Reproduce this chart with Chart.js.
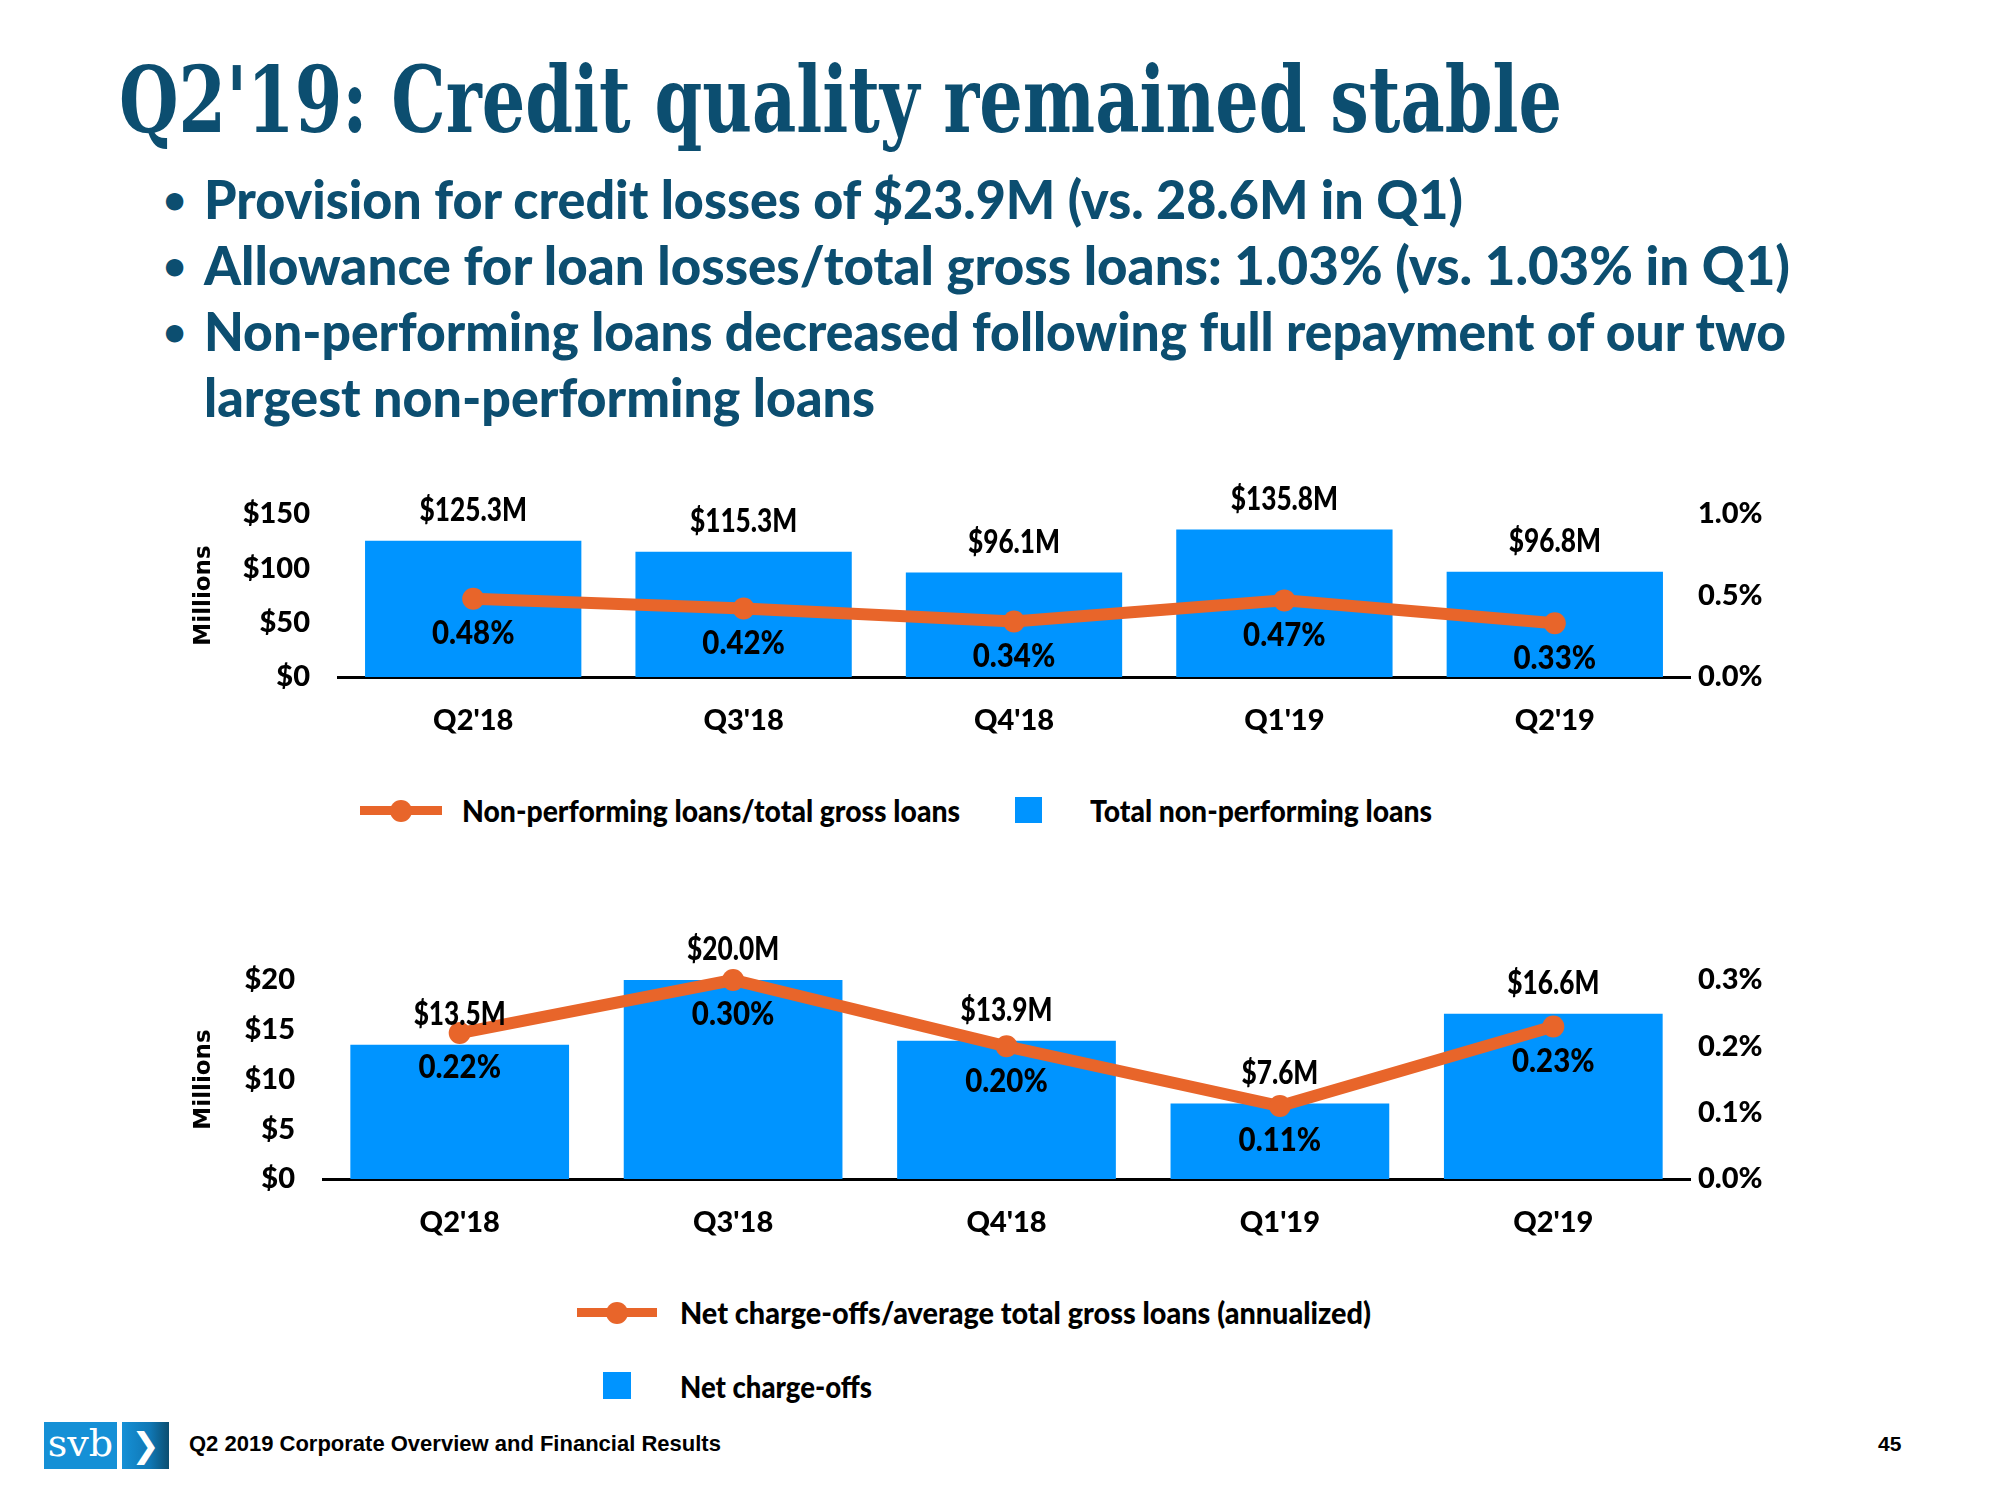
<!DOCTYPE html>
<html>
<head>
<meta charset="utf-8">
<script src="https://cdn.jsdelivr.net/npm/chart.js@4.4.1/dist/chart.umd.min.js"></script>
<style>
  html, body { margin: 0; padding: 0; background: #fff; }
  body { width: 2000px; height: 1500px; position: relative; overflow: hidden; font-family: Lato, sans-serif; }
  .abs { position: absolute; white-space: nowrap; transform-origin: 0 50%; }
  #title { left: 119px; top: 50px; font-family: 'DejaVu Serif', serif;
           font-weight: bold; font-size: 92px; line-height: 100px; color: #0c4e70; }
  .bullet { left: 204px; font-weight: 900; font-size: 54px; line-height: 66px; color: #0c4e70; }
  .dot { left: 163px; font-weight: bold; font-size: 40px; line-height: 66px; color: #0c4e70; }
  .leg { font-weight: 900; font-size: 31px; line-height: 40px; color: #000; }
  .legline { position: absolute; height: 9px; background: #e8652a; }
  .legline::after { content: ''; position: absolute; left: 50%; top: 50%; width: 22px; height: 22px;
                    margin: -11px 0 0 -11px; border-radius: 50%; background: #e8652a; }
  .legbox { position: absolute; background: #0094ff; }
  .chartbox { position: absolute; }
  #footer { left: 189px; top: 1430px; font-family: 'Liberation Sans', Arial, sans-serif; font-weight: bold;
            font-size: 22px; line-height: 28px; color: #000; }
  #page { left: 1878px; top: 1430px; font-family: 'Liberation Sans', Arial, sans-serif; font-weight: bold;
          font-size: 21px; line-height: 28px; color: #000; }
  #logoL { left: 44px; top: 1422px; width: 73px; height: 47px; background: #1590d6; color: #fff;
           font-family: 'DejaVu Serif', serif; font-size: 38px; line-height: 42px; text-align: center; }
  #logoR { left: 122px; top: 1422px; width: 47px; height: 47px;
           background: linear-gradient(90deg, #1590d6 0%, #1077b4 60%, #0c4e70 100%); color: #fff;
           font-family: 'DejaVu Sans', sans-serif; font-weight: bold; font-size: 34px; line-height: 46px; text-align: center; }
</style>
</head>
<body>
<div id="title" class="abs fit" data-w="1443">Q2'19: Credit quality remained stable</div>
<div class="abs dot" style="top:166px">•</div>
<div class="abs dot" style="top:232px">•</div>
<div class="abs dot" style="top:298px">•</div>
<div class="abs bullet fit" data-w="1259" style="top:166px">Provision for credit losses of $23.9M (vs. 28.6M in Q1)</div>
<div class="abs bullet fit" data-w="1586" style="top:232px">Allowance for loan losses/total gross loans: 1.03% (vs. 1.03% in Q1)</div>
<div class="abs bullet fit" data-w="1582" style="top:298px">Non-performing loans decreased following full repayment of our two</div>
<div class="abs bullet fit" data-w="671" style="top:364px">largest non-performing loans</div>

<div class="chartbox" style="left:186px; top:454px; width:1634px; height:293px;"><canvas id="topChart"></canvas></div>
<div class="chartbox" style="left:186px; top:920px; width:1634px; height:329px;"><canvas id="bottomChart"></canvas></div>

<div class="legline" style="left:360px; top:806px; width:82px;"></div>
<div class="abs leg fit" data-w="498" style="left:462px; top:790px;">Non-performing loans/total gross loans</div>
<div class="legbox" style="left:1015px; top:797px; width:27px; height:26px;"></div>
<div class="abs leg fit" data-w="342" style="left:1090px; top:790px;">Total non-performing loans</div>

<div class="legline" style="left:577px; top:1308px; width:80px;"></div>
<div class="abs leg fit" data-w="691" style="left:680px; top:1292px;">Net charge-offs/average total gross loans (annualized)</div>
<div class="legbox" style="left:603px; top:1372px; width:28px; height:27px;"></div>
<div class="abs leg fit" data-w="192" style="left:680px; top:1366px;">Net charge-offs</div>

<div id="logoL" class="abs">svb</div>
<div id="logoR" class="abs">❯</div>
<div id="footer" class="abs">Q2 2019 Corporate Overview and Financial Results</div>
<div id="page" class="abs">45</div>

<script>
const quarters = ["Q2'18", "Q3'18", "Q4'18", "Q1'19", "Q2'19"];

// total non-performing loans ($M) and NPL / total gross loans (%)
const nplTotal = [125.3, 115.3, 96.1, 135.8, 96.8];
const nplRatio = [0.48, 0.42, 0.34, 0.47, 0.33];
const nplLeftTicks = [0, 50, 100, 150];
const nplRightTicks = [0, 0.5, 1.0];

// net charge-offs ($M) and net charge-offs / average gross loans (%)
const ncoTotal = [13.5, 20.0, 13.9, 7.6, 16.6];
const ncoRatio = [0.22, 0.30, 0.20, 0.11, 0.23];
const ncoLeftTicks = [0, 5, 10, 15, 20];
const ncoRightTicks = [0, 0.1, 0.2, 0.3];

const blue = '#0094ff';
const orange = '#e8652a';
const labelFont = "900 32px Lato, sans-serif";

// squeeze the html text to the widths of the condensed font in the slide
document.querySelectorAll('.fit').forEach(el => {
    const w = el.getBoundingClientRect().width;
    el.style.transform = 'scaleX(' + (el.dataset.w / w) + ')';
});

Chart.defaults.font.family = "Lato, sans-serif";
Chart.defaults.color = '#000';

const valueLabels = {
    id: 'valueLabels',
    afterDatasetsDraw(chart) {
        const ctx = chart.ctx;
        ctx.save();
        ctx.font = labelFont;
        ctx.fillStyle = '#000';
        ctx.textAlign = 'center';
        ctx.textBaseline = 'middle';
        chart.data.datasets.forEach((ds, i) => {
            const meta = chart.getDatasetMeta(i);
            meta.data.forEach((el, j) => {
                const v = ds.data[j];
                ctx.save();
                if (ds.type === 'bar') {
                    ctx.translate(el.x, el.y - 30);
                    ctx.scale(0.82, 1);
                    ctx.fillText('$' + v.toFixed(1) + 'M', 0, 0);
                } else {
                    ctx.translate(el.x, el.y + 35);
                    ctx.scale(0.92, 1);
                    ctx.fillText(v.toFixed(2) + '%', 0, 0);
                }
                ctx.restore();
            });
        });
        ctx.restore();
    }
};

function makeChart(id, bars, ratios, leftTicks, rightTicks, leftWidth) {
    new Chart(document.getElementById(id), {
        type: 'bar',
        data: {
            labels: quarters,
            datasets: [{
                type: 'line',
                data: ratios,
                yAxisID: 'y1',
                borderColor: orange,
                backgroundColor: orange,
                borderWidth: 12,
                pointRadius: 11,
                pointBackgroundColor: orange,
                pointBorderWidth: 0,
                tension: 0,
                clip: false,
                order: 0
            }, {
                type: 'bar',
                data: bars,
                yAxisID: 'y',
                backgroundColor: blue,
                categoryPercentage: 0.8,
                barPercentage: 1.0,
                order: 1
            }]
        },
        options: {
            responsive: true,
            maintainAspectRatio: false,
            animation: false,
            layout: { padding: { top: 60, left: 0, right: 0, bottom: 0 } },
            plugins: {
                legend: { display: false },
                tooltip: { enabled: false }
            },
            scales: {
                x: {
                    grid: { display: false },
                    border: { display: true, color: '#000', width: 3 },
                    ticks: { font: { size: 29, weight: '900' }, padding: 18 },
                    afterFit: s => { s.height = 70; }
                },
                y: {
                    position: 'left',
                    min: leftTicks[0],
                    max: leftTicks[leftTicks.length - 1],
                    grid: { display: false, drawTicks: false },
                    border: { display: false },
                    afterBuildTicks: s => { s.ticks = leftTicks.map(v => ({ value: v })); },
                    ticks: {
                        font: { size: 29, weight: '900' },
                        padding: 28,
                        callback: v => '$' + v
                    },
                    title: {
                        display: true,
                        text: 'Millions',
                        font: { family: "'DejaVu Sans', sans-serif", size: 23, weight: 'bold' }
                    },
                    afterFit: s => { s.width = leftWidth; }
                },
                y1: {
                    position: 'right',
                    min: rightTicks[0],
                    max: rightTicks[rightTicks.length - 1],
                    grid: { display: false, drawTicks: false },
                    border: { display: false },
                    afterBuildTicks: s => { s.ticks = rightTicks.map(v => ({ value: v })); },
                    ticks: {
                        font: { size: 29, weight: '900' },
                        padding: 8,
                        callback: v => v.toFixed(1) + '%'
                    },
                    afterFit: s => { s.width = 130; }
                }
            }
        },
        plugins: [valueLabels]
    });
}

makeChart('topChart', nplTotal, nplRatio, nplLeftTicks, nplRightTicks, 152);
makeChart('bottomChart', ncoTotal, ncoRatio, ncoLeftTicks, ncoRightTicks, 137);
</script>
</body>
</html>
